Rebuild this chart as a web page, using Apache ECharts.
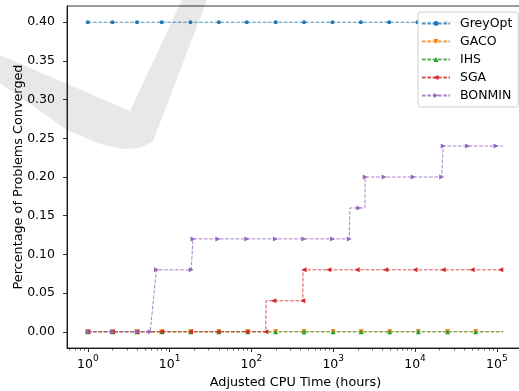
<!DOCTYPE html>
<html>
<head>
<meta charset="utf-8">
<script src="https://cdn.jsdelivr.net/npm/echarts@6/dist/echarts.min.js"></script>
<style>
html, body { margin: 0; padding: 0; background: #fff; }
#box1 { width: 519px; height: 391px; }
</style>
</head>
<body>
<div id="box1"></div>
<script>
var dom = document.getElementById("box1");
var myChart = echarts.init(dom);

var names = ['GreyOpt', 'GACO', 'IHS', 'SGA', 'BONMIN'];
var colors = ['#1f77b4', '#ff7f0e', '#2ca02c', '#d62728', '#9467bd'];

// times (hours) and share of problems converged
var greyT = [1, 2, 4, 8, 18, 40, 88, 198, 440, 980, 2180, 4830, 10700, 23900, 53000, 120000];
var greyY = [0.40, 0.40, 0.40, 0.40, 0.40, 0.40, 0.40, 0.40, 0.40, 0.40, 0.40, 0.40, 0.40, 0.40, 0.40, 0.40];
var greyMark = [1, 2, 4, 8, 18, 40, 88, 198, 440, 980, 2180, 4830, 10700, 23900, 53000];

var gacoT = [1, 2, 4, 8, 18, 40, 90, 198, 440, 1000, 2200, 4900, 11000, 25000, 55000, 120000];
var gacoY = [0, 0, 0, 0, 0, 0, 0, 0, 0, 0, 0, 0, 0, 0, 0, 0];
var gacoMark = [1, 2, 4, 8, 18, 40, 90, 198, 440, 1000, 2200, 4900, 11000, 25000, 55000];

var ihsT = [1, 2, 4, 8, 18, 40, 90, 198, 440, 1000, 2200, 4900, 11000, 25000, 55000, 120000];
var ihsY = [0, 0, 0, 0, 0, 0, 0, 0, 0, 0, 0, 0, 0, 0, 0, 0];
var ihsMark = [1, 2, 4, 8, 18, 40, 90, 198, 440, 1000, 2200, 4900, 11000, 25000, 55000];

var sgaT = [1, 2, 4, 8, 18, 39, 88, 150, 151, 188, 425, 428, 440, 884, 1960, 4400, 10000, 22100, 50000, 112000, 120000];
var sgaY = [0, 0, 0, 0, 0, 0, 0, 0, 0.04, 0.04, 0.04, 0.08, 0.08, 0.08, 0.08, 0.08, 0.08, 0.08, 0.08, 0.08, 0.08];
var sgaMark = [1, 2, 4, 8, 18, 39, 88, 150, 188, 425, 440, 884, 1960, 4400, 10000, 22100, 50000, 112000];

var bonT = [1, 2, 4, 5.8, 6.9, 18.4, 19.3, 39, 88, 197, 437, 980, 1570, 1600, 2060, 2440, 2460, 4200, 9500, 21200, 22100, 44000, 98000, 120000];
var bonY = [0, 0, 0, 0, 0.08, 0.08, 0.12, 0.12, 0.12, 0.12, 0.12, 0.12, 0.12, 0.16, 0.16, 0.16, 0.20, 0.20, 0.20, 0.20, 0.24, 0.24, 0.24, 0.24];
var bonMark = [1, 2, 4, 5.8, 6.9, 18.4, 19.3, 39, 88, 197, 437, 980, 1570, 2060, 2460, 4200, 9500, 21200, 22100, 44000, 98000];

var xTicks = [1, 10, 100, 1000, 10000, 100000];
var yTicks = [0, 0.05, 0.10, 0.15, 0.20, 0.25, 0.30, 0.35, 0.40];

var xMin = 0.557, xMax = 215000;
var yMin = -0.021, yMax = 0.421;

// minor log ticks 2..9 x 10^k
var xMinor = [];
for (var k = -1; k <= 5; k++) {
    for (var m = 2; m <= 9; m++) {
        var v = m * Math.pow(10, k);
        if (v >= xMin && v <= xMax) xMinor.push(v);
    }
}

function makeSeries(idx, symbol, size, ts, ys, marks) {
    return {
        name: names[idx],
        type: 'line',
        xAxisIndex: 0,
        symbol: symbol,
        symbolSize: size,
        showAllSymbol: true,
        animation: false,
        data: ts.map(function (t, i) {
            if (marks.indexOf(t) >= 0) return [t, ys[i]];
            return { value: [t, ys[i]], symbol: 'none' };
        }),
        lineStyle: { color: colors[idx], width: 1, type: [3.7, 1.6], opacity: 0.8 },
        itemStyle: { color: colors[idx] },
        emphasis: { disabled: true }
    };
}

var font = 'DejaVu Sans';

option = {
    backgroundColor: '#fff',
    textStyle: { fontFamily: font, color: '#000' },
    graphic: [{
        type: 'polygon',
        z: -10,
        silent: true,
        shape: {
            points: [[0, 55], [130, 111], [182, 0], [207, 0], [153, 141], [140, 148], [122, 149],
                     [100, 144], [67, 130], [0, 83]]
        },
        style: { fill: '#e8e8e8' }
    }],
    grid: {
        left: 67, top: 6, right: -5, bottom: 43,
        outerBoundsMode: 'none',
        containLabel: false,
        show: true, borderColor: '#000', borderWidth: 0.8, backgroundColor: 'transparent'
    },
    legend: {
        orient: 'vertical',
        left: 418, top: 12,
        padding: [5, 6, 5, 3],
        itemWidth: 28, itemHeight: 6, itemGap: 5,
        backgroundColor: 'rgba(255,255,255,0.8)',
        borderColor: '#d0d0d0', borderWidth: 1, borderRadius: 3,
        textStyle: { fontFamily: font, fontSize: 12.5, color: '#000', padding: [0, 0, 0, 5] },
        data: names
    },
    xAxis: [{
        type: 'log',
        min: xMin, max: xMax,
        name: 'Adjusted CPU Time (hours)',
        nameLocation: 'middle',
        nameGap: 28,
        nameMoveOverlap: false,
        nameTextStyle: { fontFamily: font, fontSize: 12.8, color: '#000' },
        axisLine: { show: true, onZero: false, lineStyle: { color: '#000', width: 0.8 } },
        axisTick: { show: true, length: 4, customValues: xTicks, lineStyle: { color: '#000', width: 0.8 } },
        axisLabel: {
            customValues: xTicks,
            margin: 6,
            fontFamily: font,
            formatter: function (v) {
                return '{b|10}{s|' + Math.round(Math.log10(v)) + '}';
            },
            rich: {
                b: { fontFamily: font, fontSize: 12.5, color: '#000', verticalAlign: 'bottom', lineHeight: 17 },
                s: { fontFamily: font, fontSize: 9, color: '#000', verticalAlign: 'top', lineHeight: 17 }
            }
        },
        splitLine: { show: false }
    }, {
        type: 'log',
        min: xMin, max: xMax,
        position: 'bottom',
        axisLine: { show: false, onZero: false },
        axisTick: { show: true, length: 2.5, customValues: xMinor, lineStyle: { color: '#000', width: 0.6 } },
        axisLabel: { show: false },
        splitLine: { show: false }
    }],
    yAxis: {
        type: 'value',
        min: yMin, max: yMax,
        name: 'Percentage of Problems Converged',
        nameLocation: 'middle',
        nameGap: 42,
        nameMoveOverlap: false,
        nameTextStyle: { fontFamily: font, fontSize: 12.8, color: '#000' },
        axisLine: { show: true, onZero: false, lineStyle: { color: '#000', width: 0.8 } },
        axisTick: { show: true, length: 4, customValues: yTicks, lineStyle: { color: '#000', width: 0.8 } },
        axisLabel: {
            customValues: yTicks,
            margin: 12,
            fontFamily: font, fontSize: 12.5, color: '#000',
            formatter: function (v) { return v.toFixed(2); }
        },
        splitLine: { show: false }
    },
    series: [
        makeSeries(0, 'circle', 4, greyT, greyY, greyMark),
        makeSeries(1, 'path://M0,0L10,0L5,10Z', 5, gacoT, gacoY, gacoMark),
        makeSeries(2, 'triangle', 5, ihsT, ihsY, ihsMark),
        makeSeries(3, 'path://M0,5L10,0L10,10Z', 5, sgaT, sgaY, sgaMark),
        makeSeries(4, 'path://M10,5L0,0L0,10Z', 5, bonT, bonY, bonMark)
    ]
};

if (option && typeof option === "object") {
    myChart.setOption(option, true);
}
</script>
</body>
</html>
